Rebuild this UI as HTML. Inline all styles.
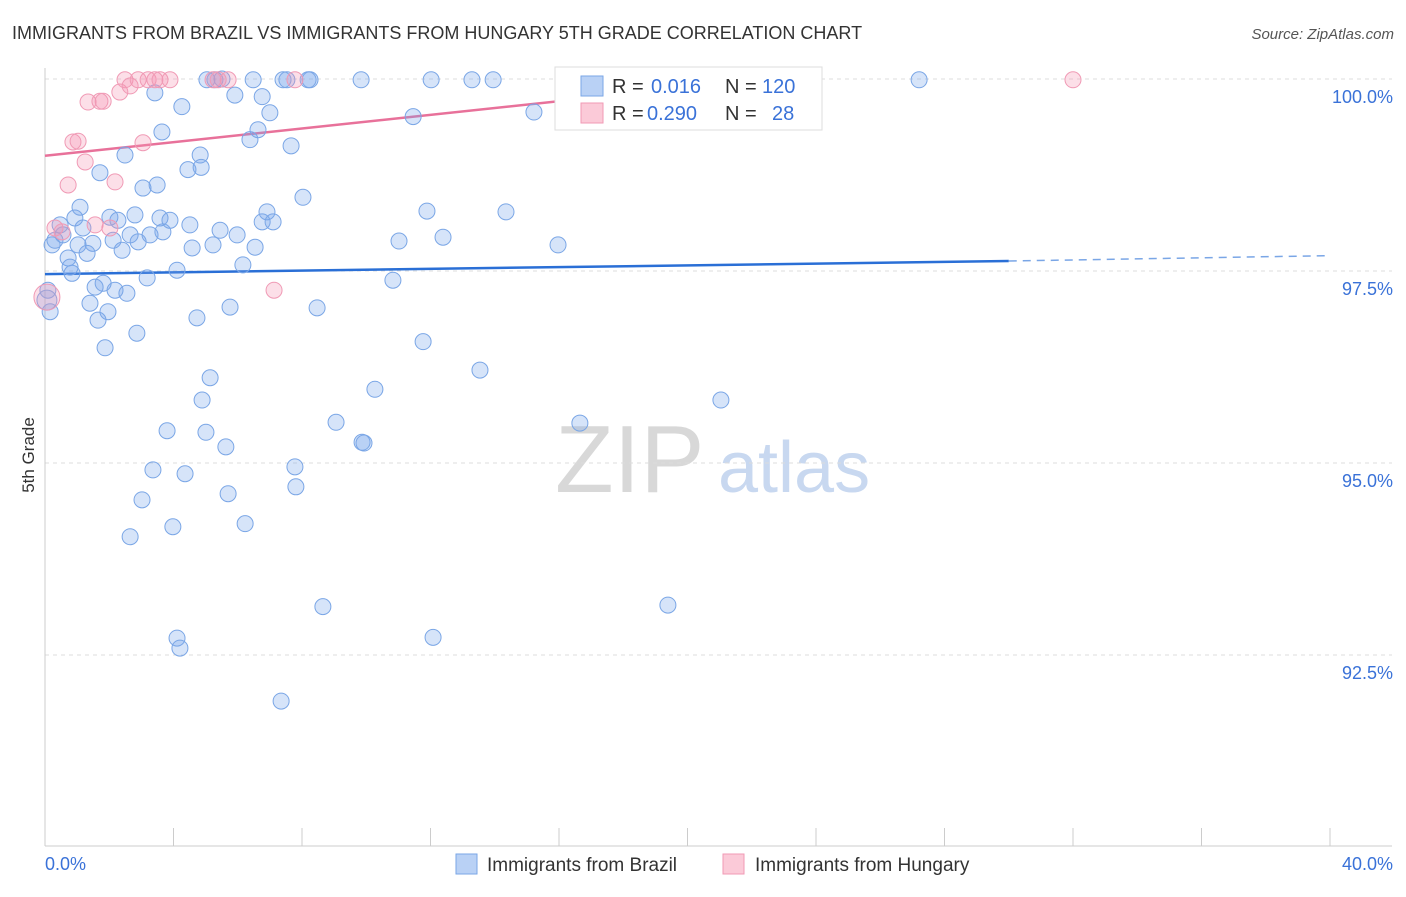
<!DOCTYPE html>
<html><head><meta charset="utf-8"><style>
body{margin:0;background:#fff;font-family:"Liberation Sans",sans-serif;}
svg text{font-family:"Liberation Sans",sans-serif;}
</style></head><body>
<svg id="chart" width="1406" height="892" xmlns="http://www.w3.org/2000/svg">
<text x="12" y="39" font-size="18" fill="#333">IMMIGRANTS FROM BRAZIL VS IMMIGRANTS FROM HUNGARY 5TH GRADE CORRELATION CHART</text>
<text x="1394" y="39" font-size="15" fill="#555" text-anchor="end" font-style="italic">Source: ZipAtlas.com</text>
<text x="34" y="455" font-size="17" fill="#333" text-anchor="middle" transform="rotate(-90 34 455)">5th Grade</text>
<g>
<text x="555" y="492" font-size="96" fill="#d8d8d8" font-family="Liberation Serif, serif">ZIP</text>
<text x="718" y="492" font-size="72" fill="#c8d8f0">atlas</text>
</g>
<g id="grid"></g><g id="axes"></g><g id="lines"></g><g id="points"></g>
<g>
<rect x="555" y="67" width="267" height="63" fill="#fff" stroke="#ddd"/>
<rect x="581" y="76" width="22" height="20" fill="#b9d1f5" stroke="#7aa6e6"/>
<rect x="581" y="103" width="22" height="20" fill="#fbcad8" stroke="#f09ab5"/>
<text x="612" y="93" font-size="20" fill="#333">R =</text>
<text x="651" y="93" font-size="20" fill="#3a72d8">0.016</text>
<text x="725" y="93" font-size="20" fill="#333">N =</text>
<text x="762" y="93" font-size="20" fill="#3a72d8">120</text>
<text x="612" y="120" font-size="20" fill="#333">R =</text>
<text x="647" y="120" font-size="20" fill="#3a72d8">0.290</text>
<text x="725" y="120" font-size="20" fill="#333">N =</text>
<text x="772" y="120" font-size="20" fill="#3a72d8">28</text>
</g>
<g>
<rect x="456" y="854" width="21" height="20" fill="#b9d1f5" stroke="#7aa6e6"/>
<text x="487" y="871" font-size="19" fill="#333">Immigrants from Brazil</text>
<rect x="723" y="854" width="21" height="20" fill="#fbcad8" stroke="#f09ab5"/>
<text x="755" y="871" font-size="19" fill="#333">Immigrants from Hungary</text>
</g>
</svg>
<script>
const xTicks=[0,4,8,12,16,20,24,28,32,36,40];
const yTicks=[100,97.5,95,92.5];
const yTickLabels=["100.0%","97.5%","95.0%","92.5%"];
const brazilX=[0.31,0.22,0.47,0.56,0.93,1.09,1.18,0.72,0.84,0.78,1.03,1.31,1.49,1.40,1.56,1.65,1.81,1.96,1.87,2.02,2.12,2.27,2.40,2.55,2.18,2.49,1.71,2.65,2.80,2.90,2.86,3.05,3.18,3.27,3.49,3.58,3.67,3.89,4.11,3.64,3.42,4.26,4.45,4.51,4.58,4.73,4.83,4.86,5.04,5.23,5.29,5.45,5.51,5.76,5.98,5.91,6.16,6.38,6.54,6.63,6.76,6.76,6.91,7.00,7.10,6.48,7.41,7.53,7.66,8.03,8.25,8.19,8.47,9.84,10.83,11.02,11.46,11.89,12.02,12.39,13.29,13.95,14.35,15.22,15.97,11.77,13.54,10.27,9.06,9.87,9.93,5.14,4.89,3.80,5.01,5.63,3.36,4.36,7.78,7.81,5.70,3.02,6.23,3.98,2.65,8.65,19.39,4.11,4.20,12.08,7.35,16.65,21.04,27.21,16.25,0.16,0.09,0.06];
const brazilY=[97.90,97.84,98.10,97.97,98.19,98.33,98.06,97.67,97.47,97.55,97.84,97.73,97.86,97.08,97.29,96.86,97.34,96.97,96.50,98.20,97.90,98.16,97.77,97.21,97.25,99.01,98.78,97.97,98.23,97.88,96.69,98.58,97.41,97.97,98.62,98.19,98.01,98.16,97.51,99.31,99.82,99.64,98.82,98.10,97.80,96.89,99.01,98.85,99.99,97.84,99.99,98.03,100.0,97.03,97.97,99.79,97.58,99.21,97.81,99.34,99.77,98.14,98.27,99.56,98.14,99.99,99.99,99.99,99.13,98.46,99.99,99.99,97.02,99.99,97.38,97.89,99.51,98.28,99.99,97.94,99.99,99.99,98.27,99.57,97.84,96.58,96.21,95.96,95.53,95.27,95.26,96.11,95.82,95.42,95.40,95.21,94.91,94.86,94.95,94.69,94.60,94.52,94.21,94.17,94.04,93.13,93.15,92.72,92.59,92.73,91.90,95.52,95.82,99.99,99.99,96.97,97.25,97.12];
const hungaryX=[0.06,0.31,0.53,0.72,0.87,1.03,1.25,1.34,1.71,1.81,2.18,2.02,2.33,2.49,2.65,2.90,3.05,3.21,3.42,3.58,3.89,5.23,5.39,5.70,7.13,7.78,32.0,1.56];
const hungaryY=[97.16,98.06,98.01,98.62,99.18,99.19,98.92,99.70,99.71,99.71,98.66,98.06,99.83,99.99,99.91,99.99,99.17,99.99,99.99,99.99,99.99,99.99,99.99,99.99,97.25,99.99,99.99,98.10];
const brazilTrendX=[0,30,40];
const brazilTrendY=[97.46,97.63,97.70];
const hungaryTrendX=[0,22.5];
const hungaryTrendY=[99.0,100.0];

const X0=45,X1=1330,Y0=79,PX_PER_PCT=192/2.5;
const xs=v=>X0+(v/40)*(X1-X0);
const ys=v=>Y0+(100-v)*PX_PER_PCT;
const NS="http://www.w3.org/2000/svg";
function mk(tag,attrs,parent){const e=document.createElementNS(NS,tag);for(const k in attrs)e.setAttribute(k,attrs[k]);parent.appendChild(e);return e;}
const grid=document.getElementById('grid'),axes=document.getElementById('axes'),lines=document.getElementById('lines'),pts=document.getElementById('points');

yTicks.forEach((t,i)=>{
  const l=mk('line',{x1:X0,x2:1392,y1:ys(t),y2:ys(t),stroke:'#ddd','stroke-dasharray':'4,4'},grid);
  
  
  const tx=mk('text',{x:1393,y:ys(t)+24,'font-size':18,fill:'#3a72d8','text-anchor':'end'},axes);
  tx.textContent=yTickLabels[i];
  
  
});
const xa=mk('line',{x1:X0,x2:1392,y1:846,y2:846,stroke:'#ccc'},axes);


const ya=mk('line',{x1:X0,x2:X0,y1:68,y2:846,stroke:'#ccc'},axes);


xTicks.forEach(t=>{
  const l=mk('line',{x1:xs(t),x2:xs(t),y1:828,y2:846,stroke:'#ccc'},axes);
  
  
});
const xl0=mk('text',{x:45,y:870,'font-size':18,fill:'#3a72d8'},axes);xl0.textContent=xTicks[0].toFixed(1)+'%';


const xl1=mk('text',{x:1393,y:870,'font-size':18,fill:'#3a72d8','text-anchor':'end'},axes);xl1.textContent=xTicks[xTicks.length-1].toFixed(1)+'%';



brazilX.forEach((x,i)=>{
  const big=x<0.2&&i>=117;
  const c=mk('circle',{cx:xs(x),cy:ys(brazilY[i]),r:big?10:8,fill:'rgba(120,165,235,0.3)',stroke:'#7aa6e6','stroke-width':1},pts);
  
  
});
hungaryX.forEach((x,i)=>{
  const c=mk('circle',{cx:xs(x),cy:ys(hungaryY[i]),r:i===0?13:8,fill:'rgba(245,150,180,0.3)',stroke:'#f09ab5','stroke-width':1},pts);
  
  
});
const bl=mk('line',{x1:xs(brazilTrendX[0]),y1:ys(brazilTrendY[0]),x2:xs(brazilTrendX[1]),y2:ys(brazilTrendY[1]),stroke:'#2a6fd6','stroke-width':2.5},lines);


const bd=mk('line',{x1:xs(brazilTrendX[1]),y1:ys(brazilTrendY[1]),x2:xs(brazilTrendX[2]),y2:ys(brazilTrendY[2]),stroke:'#7aa6e6','stroke-width':1.5,'stroke-dasharray':'8,6'},lines);


const hl=mk('line',{x1:xs(hungaryTrendX[0]),y1:ys(hungaryTrendY[0]),x2:xs(hungaryTrendX[1]),y2:ys(hungaryTrendY[1]),stroke:'#e8719a','stroke-width':2.5},lines);


</script>
</body></html>
